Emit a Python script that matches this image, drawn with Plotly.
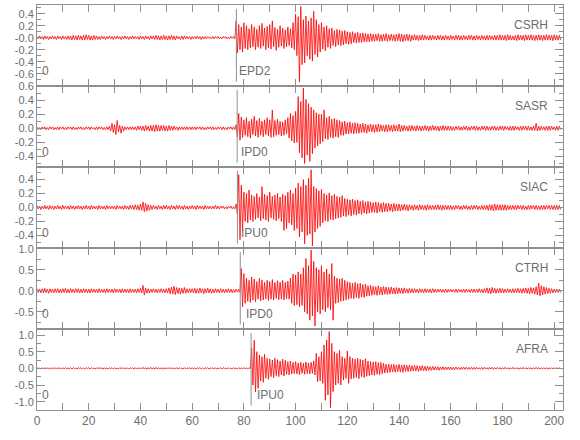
import plotly.graph_objects as go
from plotly.subplots import make_subplots

# ---------------- data ----------------
STATIONS = ["CSRH", "SASR", "SIAC", "CTRH", "AFRA"]
PICK_NAMES = ["EPD2", "IPD0", "IPU0", "IPD0", "IPU0"]
PICK_TIMES = [77.1, 77.4, 77.5, 78.6, 82.8]
ORIGIN_LABEL = "0"

# one sample time per second (0 ... 202 s)
SECONDS = list(range(203))

# per-second positive peak (HI) and negative peak (LO) of each trace
CSRH_HI = [0.02,0.03,0.02,0.03,0.02,0.02,0.03,0.02,0.03,0.02,0.03,0.02,0.03,0.03,0.04,0.03,0.04,0.03,0.04,0.05,
           0.04,0.03,0.04,0.03,0.02,0.03,0.02,0.02,0.03,0.02,0.02,0.03,0.02,0.02,0.03,0.02,0.02,0.03,0.02,0.02,
           0.03,0.02,0.03,0.02,0.03,0.03,0.04,0.03,0.03,0.04,0.03,0.03,0.04,0.03,0.03,0.02,0.03,0.03,0.02,0.02,
           0.02,0.02,0.03,0.02,0.02,0.02,0.02,0.01,0.02,0.02,0.02,0.01,0.02,0.02,0.01,0.02,0.02,
           0.28,0.22,0.18,0.25,0.20,0.15,0.22,0.18,0.14,0.20,0.24,0.16,0.19,0.22,0.28,0.17,0.14,0.20,0.16,0.13,0.18,0.15,0.25,
           0.39,0.35,0.52,0.30,0.36,0.28,0.33,0.44,0.30,0.22,0.25,0.18,0.20,0.15,0.16,0.12,0.14,0.13,0.11,0.12,
           0.10,0.09,0.10,0.08,0.09,0.07,0.08,0.07,0.06,0.07,0.06,0.06,0.07,0.05,0.06,0.07,0.05,0.06,0.05,0.06,
           0.07,0.06,0.05,0.06,0.05,0.04,0.05,0.04,0.04,0.05,0.04,0.03,0.04,0.04,0.03,0.04,0.04,0.03,0.04,0.03,
           0.04,0.03,0.04,0.04,0.03,0.04,0.03,0.04,0.04,0.03,0.04,0.03,0.04,0.03,0.04,0.04,0.03,0.04,0.04,0.05,
           0.04,0.04,0.05,0.04,0.03,0.04,0.05,0.04,0.04,0.05,0.04,0.05,0.04,0.04,0.05,0.04,0.04,0.05,0.04,0.04,0.05,0.04,0.04]
CSRH_LO = [-0.02,-0.02,-0.03,-0.02,-0.03,-0.02,-0.02,-0.03,-0.02,-0.03,-0.02,-0.03,-0.03,-0.04,-0.03,-0.04,-0.03,-0.04,-0.04,-0.03,
           -0.04,-0.04,-0.03,-0.03,-0.03,-0.02,-0.03,-0.02,-0.02,-0.03,-0.02,-0.02,-0.03,-0.02,-0.02,-0.03,-0.02,-0.02,-0.02,-0.03,
           -0.02,-0.03,-0.02,-0.03,-0.02,-0.03,-0.03,-0.04,-0.03,-0.03,-0.04,-0.03,-0.03,-0.04,-0.02,-0.03,-0.03,-0.02,-0.02,-0.03,
           -0.02,-0.02,-0.02,-0.03,-0.02,-0.02,-0.01,-0.02,-0.02,-0.01,-0.02,-0.02,-0.01,-0.02,-0.02,-0.01,-0.02,
           -0.25,-0.20,-0.24,-0.18,-0.20,-0.17,-0.15,-0.20,-0.16,-0.18,-0.14,-0.20,-0.17,-0.19,-0.15,-0.21,-0.16,-0.14,-0.18,-0.15,-0.13,-0.17,-0.20,
           -0.30,-0.74,-0.45,-0.42,-0.30,-0.36,-0.39,-0.28,-0.32,-0.24,-0.19,-0.22,-0.16,-0.18,-0.13,-0.15,-0.12,-0.13,-0.12,-0.10,
           -0.11,-0.10,-0.08,-0.09,-0.08,-0.08,-0.07,-0.07,-0.07,-0.06,-0.06,-0.05,-0.06,-0.06,-0.05,-0.06,-0.05,-0.05,-0.06,-0.05,
           -0.06,-0.07,-0.05,-0.05,-0.06,-0.04,-0.04,-0.05,-0.04,-0.04,-0.03,-0.04,-0.04,-0.03,-0.04,-0.03,-0.04,-0.04,-0.03,-0.04,
           -0.03,-0.04,-0.03,-0.04,-0.04,-0.03,-0.04,-0.03,-0.04,-0.04,-0.03,-0.04,-0.03,-0.04,-0.04,-0.03,-0.04,-0.04,-0.04,-0.04,
           -0.04,-0.05,-0.04,-0.04,-0.04,-0.05,-0.04,-0.04,-0.05,-0.04,-0.04,-0.04,-0.05,-0.04,-0.04,-0.05,-0.04,-0.04,-0.04,-0.05,-0.04,-0.04,-0.04]

SASR_HI = [0.02,0.01,0.02,0.02,0.01,0.02,0.02,0.01,0.02,0.02,0.02,0.01,0.02,0.02,0.02,0.01,0.02,0.02,0.01,0.02,
           0.02,0.02,0.01,0.02,0.02,0.02,0.01,0.02,0.03,0.07,0.05,0.11,0.04,0.03,0.02,0.02,0.02,0.02,0.02,0.03,
           0.03,0.03,0.04,0.03,0.04,0.04,0.05,0.04,0.04,0.04,0.03,0.04,0.03,0.03,0.02,0.02,0.02,0.02,0.02,0.02,
           0.02,0.02,0.02,0.02,0.02,0.01,0.02,0.02,0.02,0.01,0.02,0.02,0.02,0.01,0.02,0.02,0.02,
           0.05,0.21,0.16,0.12,0.15,0.10,0.13,0.17,0.11,0.14,0.10,0.12,0.15,0.12,0.26,0.11,0.13,0.10,0.09,0.12,0.15,0.21,0.18,
           0.24,0.45,0.38,0.57,0.41,0.35,0.30,0.26,0.22,0.20,0.20,0.26,0.15,0.17,0.13,0.14,0.12,0.11,0.09,0.10,
           0.08,0.09,0.07,0.08,0.07,0.06,0.07,0.06,0.05,0.06,0.05,0.05,0.06,0.05,0.04,0.05,0.05,0.04,0.05,0.04,
           0.06,0.04,0.04,0.03,0.04,0.04,0.03,0.04,0.03,0.03,0.04,0.03,0.03,0.04,0.03,0.03,0.03,0.04,0.03,0.03,
           0.03,0.02,0.03,0.03,0.02,0.03,0.03,0.02,0.03,0.03,0.03,0.02,0.03,0.03,0.03,0.02,0.03,0.03,0.02,0.03,
           0.03,0.03,0.02,0.03,0.03,0.03,0.02,0.03,0.03,0.03,0.03,0.02,0.03,0.07,0.03,0.03,0.02,0.03,0.03,0.03,0.02,0.03,0.03]
SASR_LO = [-0.02,-0.02,-0.01,-0.02,-0.02,-0.01,-0.02,-0.02,-0.02,-0.01,-0.02,-0.02,-0.01,-0.02,-0.02,-0.02,-0.01,-0.02,-0.02,-0.01,
           -0.02,-0.01,-0.02,-0.02,-0.01,-0.02,-0.02,-0.02,-0.04,-0.06,-0.09,-0.05,-0.07,-0.04,-0.02,-0.02,-0.02,-0.02,-0.03,-0.02,
           -0.03,-0.04,-0.03,-0.04,-0.04,-0.05,-0.04,-0.04,-0.03,-0.04,-0.04,-0.03,-0.03,-0.02,-0.03,-0.02,-0.02,-0.02,-0.02,-0.02,
           -0.02,-0.02,-0.01,-0.02,-0.02,-0.02,-0.01,-0.02,-0.02,-0.02,-0.01,-0.02,-0.02,-0.02,-0.01,-0.02,-0.02,
           -0.12,-0.17,-0.13,-0.10,-0.12,-0.14,-0.09,-0.11,-0.13,-0.10,-0.12,-0.09,-0.11,-0.13,-0.12,-0.10,-0.09,-0.11,-0.10,-0.08,-0.14,-0.18,-0.21,
           -0.20,-0.35,-0.42,-0.50,-0.38,-0.47,-0.36,-0.28,-0.25,-0.22,-0.19,-0.15,-0.16,-0.13,-0.14,-0.12,-0.13,-0.10,-0.10,-0.08,
           -0.08,-0.07,-0.08,-0.07,-0.07,-0.06,-0.06,-0.07,-0.05,-0.05,-0.06,-0.05,-0.05,-0.04,-0.05,-0.05,-0.04,-0.05,-0.04,-0.04,
           -0.05,-0.04,-0.03,-0.04,-0.04,-0.03,-0.04,-0.03,-0.04,-0.03,-0.03,-0.04,-0.03,-0.03,-0.03,-0.04,-0.03,-0.03,-0.03,-0.03,
           -0.03,-0.03,-0.02,-0.03,-0.03,-0.02,-0.03,-0.03,-0.02,-0.03,-0.03,-0.03,-0.02,-0.03,-0.03,-0.03,-0.02,-0.03,-0.03,-0.02,
           -0.03,-0.02,-0.03,-0.03,-0.03,-0.02,-0.03,-0.03,-0.02,-0.03,-0.03,-0.03,-0.03,-0.04,-0.03,-0.02,-0.03,-0.03,-0.03,-0.02,-0.03,-0.03,-0.02]

SIAC_HI = [0.03,0.02,0.02,0.03,0.02,0.03,0.02,0.02,0.03,0.02,0.03,0.02,0.02,0.03,0.02,0.02,0.03,0.02,0.02,0.03,
           0.02,0.03,0.02,0.02,0.03,0.02,0.02,0.03,0.02,0.02,0.02,0.03,0.02,0.02,0.03,0.02,0.03,0.03,0.04,0.03,
           0.05,0.08,0.06,0.04,0.03,0.03,0.02,0.03,0.02,0.03,0.03,0.02,0.03,0.02,0.03,0.03,0.02,0.03,0.02,0.02,
           0.03,0.02,0.03,0.02,0.02,0.03,0.02,0.02,0.02,0.03,0.02,0.02,0.02,0.01,0.02,0.02,0.01,
           0.05,0.47,0.32,0.22,0.20,0.25,0.18,0.16,0.20,0.15,0.30,0.19,0.17,0.22,0.16,0.18,0.20,0.15,0.19,0.17,0.22,0.25,0.20,
           0.28,0.35,0.30,0.40,0.32,0.42,0.54,0.30,0.27,0.24,0.26,0.20,0.18,0.21,0.17,0.19,0.16,0.15,0.17,0.13,
           0.12,0.11,0.12,0.10,0.11,0.09,0.10,0.08,0.09,0.08,0.07,0.08,0.07,0.06,0.07,0.06,0.06,0.05,0.06,0.05,
           0.05,0.04,0.05,0.04,0.04,0.03,0.04,0.03,0.04,0.03,0.03,0.04,0.03,0.03,0.03,0.04,0.03,0.03,0.03,0.03,
           0.03,0.02,0.03,0.03,0.02,0.03,0.03,0.02,0.03,0.03,0.03,0.02,0.03,0.03,0.03,0.04,0.04,0.05,0.04,0.04,
           0.04,0.04,0.03,0.03,0.03,0.03,0.03,0.03,0.03,0.02,0.03,0.03,0.03,0.03,0.02,0.03,0.03,0.03,0.03,0.03,0.03,0.03,0.03]
SIAC_LO = [-0.02,-0.03,-0.02,-0.02,-0.03,-0.02,-0.03,-0.02,-0.02,-0.03,-0.02,-0.02,-0.03,-0.02,-0.03,-0.02,-0.02,-0.03,-0.02,-0.02,
           -0.03,-0.02,-0.02,-0.03,-0.02,-0.02,-0.03,-0.02,-0.02,-0.02,-0.03,-0.02,-0.02,-0.03,-0.02,-0.03,-0.02,-0.03,-0.03,-0.04,
           -0.04,-0.06,-0.05,-0.04,-0.03,-0.02,-0.03,-0.02,-0.03,-0.02,-0.02,-0.03,-0.02,-0.03,-0.02,-0.02,-0.03,-0.02,-0.03,-0.02,
           -0.02,-0.03,-0.02,-0.02,-0.03,-0.02,-0.02,-0.02,-0.02,-0.02,-0.02,-0.01,-0.02,-0.02,-0.01,-0.02,-0.02,
           -0.10,-0.46,-0.33,-0.20,-0.22,-0.18,-0.20,-0.17,-0.15,-0.19,-0.16,-0.18,-0.20,-0.15,-0.17,-0.19,-0.16,-0.20,-0.33,-0.30,-0.22,-0.25,-0.33,
           -0.30,-0.42,-0.35,-0.52,-0.40,-0.38,-0.55,-0.35,-0.30,-0.27,-0.22,-0.19,-0.20,-0.17,-0.18,-0.16,-0.15,-0.14,-0.12,-0.13,
           -0.11,-0.12,-0.10,-0.11,-0.09,-0.10,-0.08,-0.09,-0.08,-0.07,-0.07,-0.08,-0.06,-0.07,-0.06,-0.06,-0.05,-0.06,-0.05,-0.05,
           -0.05,-0.04,-0.04,-0.05,-0.03,-0.04,-0.03,-0.04,-0.03,-0.03,-0.04,-0.03,-0.03,-0.03,-0.03,-0.03,-0.04,-0.03,-0.03,-0.03,
           -0.03,-0.03,-0.02,-0.03,-0.03,-0.02,-0.03,-0.03,-0.03,-0.02,-0.03,-0.03,-0.03,-0.03,-0.04,-0.04,-0.05,-0.04,-0.04,-0.04,
           -0.04,-0.04,-0.03,-0.03,-0.03,-0.03,-0.02,-0.03,-0.03,-0.03,-0.03,-0.02,-0.03,-0.03,-0.03,-0.03,-0.03,-0.02,-0.03,-0.03,-0.03,-0.03,-0.03]

CTRH_HI = [0.05,0.04,0.05,0.06,0.04,0.05,0.04,0.05,0.05,0.04,0.05,0.06,0.04,0.05,0.04,0.05,0.05,0.04,0.05,0.04,
           0.04,0.05,0.04,0.04,0.05,0.04,0.04,0.05,0.04,0.04,0.05,0.04,0.04,0.05,0.04,0.04,0.05,0.04,0.04,0.05,
           0.06,0.13,0.07,0.05,0.04,0.05,0.04,0.04,0.05,0.04,0.05,0.07,0.09,0.11,0.08,0.07,0.06,0.08,0.05,0.05,
           0.05,0.06,0.05,0.07,0.05,0.05,0.06,0.05,0.04,0.05,0.04,0.05,0.04,0.04,0.05,0.04,0.03,0.04,0.04,
           0.53,0.41,0.30,0.25,0.33,0.28,0.22,0.30,0.26,0.20,0.25,0.22,0.27,0.20,0.24,0.21,0.25,0.20,0.23,0.30,0.40,
           0.38,0.45,0.40,0.55,0.77,0.60,0.97,0.70,0.55,0.50,0.60,0.45,0.52,0.40,0.65,0.35,0.30,0.28,0.30,0.25,
           0.22,0.20,0.18,0.20,0.17,0.18,0.15,0.16,0.12,0.13,0.11,0.10,0.12,0.09,0.10,0.09,0.08,0.09,0.07,0.08,
           0.07,0.06,0.07,0.05,0.06,0.05,0.05,0.04,0.05,0.04,0.05,0.04,0.04,0.05,0.04,0.04,0.04,0.03,0.04,0.04,
           0.04,0.03,0.04,0.04,0.03,0.04,0.04,0.03,0.04,0.04,0.04,0.05,0.04,0.05,0.07,0.06,0.08,0.06,0.05,0.06,
           0.05,0.04,0.05,0.04,0.05,0.05,0.06,0.05,0.06,0.07,0.06,0.08,0.07,0.10,0.18,0.12,0.10,0.08,0.06,0.05,0.04,0.04,0.04]
CTRH_LO = [-0.04,-0.05,-0.05,-0.04,-0.06,-0.04,-0.05,-0.04,-0.05,-0.05,-0.04,-0.05,-0.05,-0.04,-0.05,-0.04,-0.05,-0.05,-0.04,-0.05,
           -0.05,-0.04,-0.04,-0.05,-0.04,-0.04,-0.05,-0.04,-0.04,-0.05,-0.04,-0.04,-0.05,-0.04,-0.04,-0.05,-0.04,-0.04,-0.05,-0.04,
           -0.05,-0.10,-0.06,-0.05,-0.04,-0.04,-0.05,-0.04,-0.04,-0.05,-0.05,-0.07,-0.08,-0.09,-0.07,-0.08,-0.06,-0.06,-0.05,-0.04,
           -0.05,-0.06,-0.06,-0.05,-0.07,-0.05,-0.05,-0.06,-0.05,-0.04,-0.05,-0.04,-0.05,-0.04,-0.04,-0.05,-0.04,-0.03,-0.04,
           -0.38,-0.30,-0.25,-0.28,-0.22,-0.26,-0.20,-0.24,-0.22,-0.19,-0.23,-0.20,-0.22,-0.18,-0.21,-0.20,-0.22,-0.19,-0.20,-0.30,-0.35,
           -0.33,-0.38,-0.35,-0.50,-0.55,-0.70,-0.60,-0.84,-0.50,-0.55,-0.45,-0.50,-0.40,-0.45,-0.70,-0.30,-0.28,-0.25,-0.24,-0.22,
           -0.20,-0.18,-0.19,-0.16,-0.18,-0.15,-0.16,-0.13,-0.12,-0.11,-0.10,-0.11,-0.09,-0.10,-0.08,-0.09,-0.08,-0.07,-0.08,-0.07,
           -0.06,-0.07,-0.05,-0.06,-0.05,-0.05,-0.04,-0.05,-0.04,-0.05,-0.04,-0.04,-0.05,-0.04,-0.04,-0.03,-0.04,-0.04,-0.04,-0.03,
           -0.03,-0.04,-0.04,-0.03,-0.04,-0.04,-0.03,-0.04,-0.04,-0.04,-0.04,-0.04,-0.05,-0.04,-0.06,-0.07,-0.05,-0.06,-0.05,-0.05,
           -0.05,-0.04,-0.04,-0.05,-0.05,-0.04,-0.05,-0.06,-0.05,-0.06,-0.07,-0.06,-0.08,-0.10,-0.12,-0.10,-0.08,-0.07,-0.06,-0.05,-0.04,-0.04,-0.04]

AFRA_HI = [0.02,0.01,0.02,0.02,0.01,0.02,0.01,0.02,0.02,0.01,0.02,0.02,0.01,0.02,0.02,0.01,0.02,0.02,0.01,0.02,
           0.02,0.02,0.01,0.02,0.03,0.02,0.02,0.01,0.02,0.02,0.02,0.01,0.02,0.02,0.02,0.01,0.02,0.02,0.02,0.02,
           0.02,0.03,0.02,0.02,0.03,0.02,0.03,0.02,0.02,0.02,0.02,0.02,0.01,0.02,0.02,0.02,0.01,0.02,0.02,0.02,
           0.02,0.01,0.02,0.02,0.01,0.02,0.02,0.01,0.02,0.02,0.01,0.02,0.02,0.01,0.02,0.01,0.02,0.01,0.02,0.01,0.02,0.01,0.02,
           0.60,0.84,0.50,0.40,0.35,0.42,0.30,0.28,0.25,0.30,0.26,0.22,0.28,0.24,0.20,0.22,0.18,
           0.20,0.16,0.18,0.15,0.19,0.16,0.18,0.22,0.45,0.35,0.50,0.70,0.85,1.10,0.75,0.50,0.45,0.54,0.35,0.30,
           0.52,0.35,0.30,0.28,0.30,0.27,0.25,0.29,0.22,0.20,0.19,0.20,0.17,0.18,0.15,0.12,0.13,0.11,0.12,0.10,
           0.12,0.10,0.11,0.09,0.10,0.08,0.09,0.08,0.07,0.08,0.06,0.07,0.05,0.06,0.05,0.05,0.04,0.05,0.04,0.04,
           0.04,0.03,0.04,0.03,0.03,0.04,0.03,0.03,0.03,0.03,0.03,0.02,0.03,0.03,0.02,0.03,0.03,0.02,0.03,0.02,
           0.02,0.03,0.02,0.02,0.03,0.02,0.02,0.02,0.03,0.02,0.02,0.02,0.02,0.03,0.02,0.02,0.02,0.02,0.02,0.02,0.02,0.02,0.02]
AFRA_LO = [-0.01,-0.02,-0.02,-0.01,-0.02,-0.02,-0.01,-0.02,-0.01,-0.02,-0.02,-0.01,-0.02,-0.02,-0.01,-0.02,-0.01,-0.02,-0.02,-0.01,
           -0.02,-0.01,-0.02,-0.02,-0.02,-0.03,-0.02,-0.02,-0.01,-0.02,-0.02,-0.02,-0.01,-0.02,-0.02,-0.02,-0.01,-0.02,-0.02,-0.02,
           -0.02,-0.02,-0.03,-0.02,-0.02,-0.03,-0.02,-0.02,-0.03,-0.02,-0.02,-0.01,-0.02,-0.02,-0.02,-0.01,-0.02,-0.02,-0.01,-0.02,
           -0.02,-0.02,-0.01,-0.02,-0.02,-0.01,-0.02,-0.01,-0.02,-0.02,-0.01,-0.02,-0.01,-0.02,-0.01,-0.02,-0.01,-0.02,-0.01,-0.02,-0.01,-0.02,-0.01,
           -0.50,-0.71,-0.60,-0.38,-0.42,-0.30,-0.33,-0.25,-0.28,-0.22,-0.25,-0.20,-0.23,-0.18,-0.20,-0.17,-0.16,
           -0.17,-0.19,-0.15,-0.18,-0.16,-0.17,-0.15,-0.20,-0.40,-0.38,-0.45,-0.96,-0.80,-1.18,-0.70,-0.50,-0.45,-0.50,-0.35,-0.30,
           -0.45,-0.32,-0.30,-0.27,-0.31,-0.25,-0.28,-0.24,-0.22,-0.20,-0.21,-0.18,-0.19,-0.16,-0.14,-0.13,-0.12,-0.11,-0.12,-0.10,
           -0.11,-0.12,-0.09,-0.10,-0.09,-0.08,-0.08,-0.09,-0.07,-0.07,-0.07,-0.06,-0.06,-0.05,-0.05,-0.06,-0.04,-0.05,-0.04,-0.04,
           -0.04,-0.04,-0.03,-0.04,-0.03,-0.03,-0.03,-0.03,-0.03,-0.03,-0.02,-0.03,-0.03,-0.02,-0.03,-0.02,-0.03,-0.02,-0.02,-0.03,
           -0.02,-0.02,-0.03,-0.02,-0.02,-0.02,-0.03,-0.02,-0.02,-0.02,-0.02,-0.03,-0.02,-0.02,-0.02,-0.02,-0.02,-0.03,-0.02,-0.02,-0.02,-0.02,-0.02]

TRACES = [(CSRH_HI, CSRH_LO), (SASR_HI, SASR_LO), (SIAC_HI, SIAC_LO),
          (CTRH_HI, CTRH_LO), (AFRA_HI, AFRA_LO)]

Y_TICKS = [[-0.6, -0.4, -0.2, 0.0, 0.2, 0.4],
           [-0.4, -0.2, 0.0, 0.2, 0.4, 0.6],
           [-0.4, -0.2, 0.0, 0.2, 0.4],
           [-0.5, 0.0, 0.5, 1.0],
           [-1.0, -0.5, 0.0, 0.5, 1.0]]
Y_TICK_TEXT = [["-0.6", "-0.4", "-0.2", "-0.0", "0.2", "0.4"],
               ["-0.4", "-0.2", "0.0", "0.2", "0.4", "0.6"],
               ["-0.4", "-0.2", "0.0", "0.2", "0.4"],
               ["-0.5", "0.0", "0.5", "1.0"],
               ["-1.0", "-0.5", "0.0", "0.5", "1.0"]]

# ---------------- layout / style ----------------
Y_RANGES = [[-0.805, 0.545], [-0.55, 0.60], [-0.58, 0.58], [-0.91, 1.02], [-1.25, 1.18]]
MINOR_STEP = [0.1, 0.1, 0.1, 0.25, 0.25]
PICK_LABEL_X = [77.4, 78.1, 78.1, 79.9, 84.4]
X_RANGE = [0, 203.4]

FONT = "Liberation Sans, Arial, sans-serif"
FS = 11
AXIS_COL = "#8f8f8f"
TEXT_COL = "#6e6e6e"
TRACE_COL = "#ff0000"

fig = make_subplots(rows=5, cols=1, shared_xaxes=True, vertical_spacing=0)

for k, (hi, lo) in enumerate(TRACES):
    assert len(hi) == len(SECONDS) and len(lo) == len(SECONDS), (k, len(hi), len(lo))
    xs, ys = [], []
    for t, a, b in zip(SECONDS, hi, lo):
        xs += [t, t + 0.5]
        ys += [a, b]
    fig.add_trace(go.Scatter(x=xs, y=ys, mode="lines",
                             line=dict(color=TRACE_COL, width=0.8),
                             hoverinfo="skip", showlegend=False),
                  row=k + 1, col=1)

fig.update_xaxes(range=X_RANGE, showline=True, linecolor=AXIS_COL, linewidth=1,
                 mirror="allticks", ticks="inside", ticklen=7, tickcolor=AXIS_COL,
                 tickmode="linear", tick0=0, dtick=20, automargin=False,
                 minor=dict(dtick=10, tick0=0, ticks="inside", ticklen=7, tickcolor=AXIS_COL, showgrid=False),
                 showgrid=False, zeroline=False,
                 tickfont=dict(family=FONT, size=FS + 1, color=TEXT_COL))

for k in range(5):
    lo_r, hi_r = Y_RANGES[k]
    step = MINOR_STEP[k]
    n0 = int(lo_r / step) - 1
    n1 = int(hi_r / step) + 1
    minor_vals = [round(i * step, 3) for i in range(n0, n1 + 1)]
    fig.update_yaxes(range=Y_RANGES[k], showline=True, linecolor=AXIS_COL, linewidth=1,
                     mirror="allticks", ticks="inside", ticklen=8, tickcolor=AXIS_COL,
                     tickmode="array", tickvals=Y_TICKS[k], ticktext=Y_TICK_TEXT[k],
                     minor=dict(tickmode="array", tickvals=minor_vals, ticks="inside",
                                ticklen=4, tickcolor=AXIS_COL, showgrid=False),
                     showgrid=False, zeroline=False, automargin=False,
                     tickfont=dict(family=FONT, size=FS, color=TEXT_COL),
                     row=k + 1, col=1)

for k in range(5):
    n = "" if k == 0 else str(k + 1)
    xd, yd = f"x{n} domain", f"y{n} domain"
    fig.add_shape(type="line", xref=f"x{n}", yref=yd,
                  x0=PICK_TIMES[k], x1=PICK_TIMES[k], y0=0.055, y1=0.95,
                  line=dict(color=AXIS_COL, width=1))
    fig.add_annotation(text=PICK_NAMES[k], xref=f"x{n}", yref=yd,
                       x=PICK_LABEL_X[k], y=0.18, xanchor="left", yanchor="middle",
                       showarrow=False, font=dict(family=FONT, size=FS + 1, color=TEXT_COL))
    fig.add_annotation(text=ORIGIN_LABEL, xref=xd, yref=yd,
                       x=0.006, y=0.18, xanchor="left", yanchor="middle",
                       showarrow=False, font=dict(family=FONT, size=FS + 1, color=TEXT_COL))
    fig.add_annotation(text=STATIONS[k], xref=xd, yref=yd,
                       x=0.975, y=0.757, xanchor="right", yanchor="middle",
                       showarrow=False, font=dict(family=FONT, size=FS + 1, color=TEXT_COL))

fig.update_layout(width=580, height=440, margin=dict(l=37, r=17, t=5, b=30),
                  paper_bgcolor="white", plot_bgcolor="white", showlegend=False)

fig.write_html("out.html", config={"displayModeBar": False},
               post_script="document.body.style.margin='0px';document.body.style.overflow='hidden';")
